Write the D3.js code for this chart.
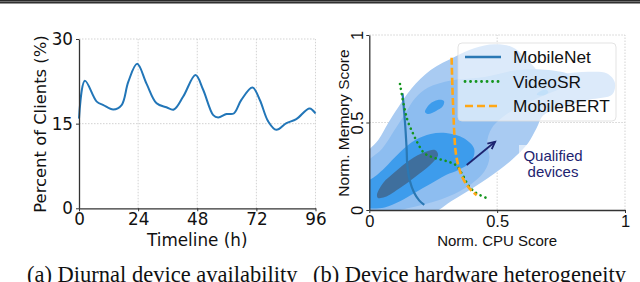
<!DOCTYPE html>
<html>
<head>
<meta charset="utf-8">
<script src="https://cdn.jsdelivr.net/npm/d3@7"></script>
<style>
  body { margin: 0; background: #fff; }
  svg { display: block; font-family: "DejaVu Sans", sans-serif; }
  .caption { font-family: "Liberation Serif", "Times New Roman", serif; }
  .sans { font-family: "Liberation Sans", Arial, sans-serif; }
</style>
</head>
<body>
<svg id="fig" width="640" height="282"></svg>
<script>
// ---- (a) diurnal availability ----
var hours   = [0, 2.4, 7.2, 9.9, 13.9, 17.3, 20, 23.6, 27.4, 31.5, 35.5, 38.5, 42.3, 47.3, 50.4, 54.5, 56.5, 59.9, 62.8, 65.9, 70.4, 73.4, 76.8, 80.1, 84.2, 88.2, 93.6, 96];
var clients = [15.9, 22.6, 18.9, 18.3, 17.5, 18.3, 22.4, 25.6, 22.1, 18.6, 17.9, 17.5, 19.8, 23.6, 21, 16.5, 16.1, 16.7, 16.8, 19.2, 21.4, 19.2, 15.4, 13.9, 15.1, 15.8, 17.7, 16.8];
var hourTicks = [0, 24, 48, 72, 96];
var clientTicks = [0, 15, 30];

// ---- (b) hardware heterogeneity, density contours ----
var levelOuter = [[-0.02,-0.02],[-0.02,0.30],[0.035,0.40],[0.075,0.50],[0.11,0.58],[0.165,0.695],[0.24,0.80],[0.335,0.876],[0.41,0.925],[0.49,0.947],[0.56,0.93],[0.63,0.84],[0.67,0.785],[0.75,0.78],[0.86,0.79],[0.93,0.78],[0.96,0.73],[0.95,0.66],[0.86,0.63],[0.75,0.585],[0.68,0.54],[0.655,0.47],[0.62,0.38],[0.56,0.29],[0.50,0.22],[0.42,0.14],[0.32,0.05],[0.24,-0.02]];
var levelMid = [[-0.02,0.25],[0.05,0.35],[0.10,0.46],[0.14,0.55],[0.18,0.64],[0.23,0.70],[0.32,0.74],[0.45,0.76],[0.58,0.80],[0.70,0.80],[0.78,0.77],[0.76,0.71],[0.66,0.64],[0.55,0.56],[0.48,0.47],[0.46,0.38],[0.47,0.30],[0.45,0.22],[0.38,0.13],[0.28,0.06],[0.15,0.01],[0.05,-0.02],[-0.02,-0.02]];
var levelHigh = [[-0.02,0.02],[-0.02,0.14],[0.03,0.20],[0.06,0.24],[0.12,0.33],[0.18,0.40],[0.24,0.435],[0.30,0.44],[0.37,0.41],[0.41,0.35],[0.40,0.28],[0.35,0.23],[0.30,0.20],[0.24,0.15],[0.18,0.10],[0.12,0.05],[0.06,0.015],[0.0,0.01]];
var levelHighSpotA = [[0.218,0.56],[0.237,0.606],[0.268,0.629],[0.292,0.623],[0.288,0.594],[0.261,0.566],[0.229,0.549]];
var levelHighSpotB = [[0.655,0.66],[0.67,0.68],[0.695,0.685],[0.70,0.67],[0.68,0.655]];
var levelPeak = [[0.030,0.086],[0.054,0.154],[0.10,0.217],[0.159,0.286],[0.218,0.331],[0.257,0.343],[0.269,0.314],[0.238,0.257],[0.179,0.189],[0.12,0.126],[0.061,0.074],[0.034,0.069]];

var mobileNet  = [[0.13,0.667],[0.137,0.55],[0.142,0.45],[0.146,0.35],[0.149,0.25],[0.158,0.17],[0.175,0.10],[0.195,0.055],[0.215,0.029]];
var videoSR    = [[0.12,0.72],[0.135,0.60],[0.15,0.51],[0.17,0.44],[0.19,0.38],[0.215,0.325],[0.25,0.30],[0.30,0.28],[0.34,0.255],[0.365,0.20],[0.39,0.135],[0.42,0.095],[0.465,0.065]];
var mobileBERT = [[0.322,0.87],[0.325,0.70],[0.329,0.55],[0.333,0.42],[0.338,0.33],[0.347,0.26],[0.36,0.20],[0.378,0.15],[0.40,0.11],[0.42,0.085]];
var arrowFromTo = [[0.381,0.257],[0.492,0.39]];
var scoreTicks = [0, 0.5, 1];
var scoreTickLabels = ['0', '0.5', '1'];
var legendNames = ['MobileNet', 'VideoSR', 'MobileBERT'];

var svg = d3.select('#fig');

// top rule of the page
svg.append('rect').attr('x', 0).attr('y', 0).attr('width', 640).attr('height', 3.5).attr('fill', '#2a2a2a');
svg.append('line').attr('x1', 0).attr('x2', 640).attr('y1', 1.6).attr('y2', 1.6).attr('stroke', '#8a8a8a').attr('stroke-width', 0.8);

// ================= (a) =================
var xA = d3.scaleLinear().domain([0, 96]).range([79, 315.5]);
var yA = d3.scaleLinear().domain([0, 30]).range([208.3, 39]);
var gA = svg.append('g');

// dotted grid
gA.selectAll('.gx').data(hourTicks.slice(1)).enter().append('line')
  .attr('x1', function (d) { return xA(d); }).attr('x2', function (d) { return xA(d); })
  .attr('y1', yA(0)).attr('y2', yA(30))
  .attr('stroke', '#c8c8c8').attr('stroke-width', 0.8).attr('stroke-dasharray', '1.5,1.5');
gA.selectAll('.gy').data(clientTicks.slice(1)).enter().append('line')
  .attr('x1', xA(0)).attr('x2', xA(96))
  .attr('y1', function (d) { return yA(d); }).attr('y2', function (d) { return yA(d); })
  .attr('stroke', '#c8c8c8').attr('stroke-width', 0.8).attr('stroke-dasharray', '1.5,1.5');

var lineA = d3.line()
  .x(function (d, i) { return xA(hours[i]); })
  .y(function (d) { return yA(d); })
  .curve(d3.curveCatmullRom.alpha(0.5));
gA.append('path').datum(clients).attr('d', lineA)
  .attr('fill', 'none').attr('stroke', '#2276b8').attr('stroke-width', 2);

var axA_x = gA.append('g').attr('transform', 'translate(0,' + yA(0) + ')')
  .call(d3.axisBottom(xA).tickValues(hourTicks).tickSize(3).tickPadding(2).tickSizeOuter(0));
var axA_y = gA.append('g').attr('transform', 'translate(' + xA(0) + ',0)')
  .call(d3.axisLeft(yA).tickValues(clientTicks).tickSize(3).tickPadding(3).tickSizeOuter(0));
[axA_x, axA_y].forEach(function (ax) {
  ax.select('.domain').attr('stroke', '#333').attr('stroke-width', 1.3);
  ax.selectAll('.tick line').attr('stroke', '#333');
  ax.selectAll('text').attr('font-size', 16.8).attr('fill', '#111').attr('font-family', 'DejaVu Sans');
});

gA.append('text').attr('x', (xA(0) + xA(96)) / 2).attr('y', 245.5)
  .attr('text-anchor', 'middle').attr('font-size', 16.8).attr('fill', '#111').text('Timeline (h)');
gA.append('text').attr('transform', 'translate(46,124) rotate(-90)')
  .attr('text-anchor', 'middle').attr('font-size', 16.4).attr('fill', '#111').text('Percent of Clients (%)');

// ================= (b) =================
var xB = d3.scaleLinear().domain([0, 1]).range([369.3, 625]);
var yB = d3.scaleLinear().domain([0, 1]).range([210, 35]);
var gB = svg.append('g').attr('class', 'sans');

svg.append('clipPath').attr('id', 'clipB').append('rect')
  .attr('x', xB(0)).attr('y', yB(1)).attr('width', xB(1) - xB(0)).attr('height', yB(0) - yB(1));

gB.selectAll('.gx').data([0.5, 1]).enter().append('line')
  .attr('x1', function (d) { return xB(d); }).attr('x2', function (d) { return xB(d); })
  .attr('y1', yB(0)).attr('y2', yB(1))
  .attr('stroke', '#c8c8c8').attr('stroke-width', 0.8).attr('stroke-dasharray', '1.5,1.5');
gB.selectAll('.gy').data([0.5, 1]).enter().append('line')
  .attr('x1', xB(0)).attr('x2', xB(1))
  .attr('y1', function (d) { return yB(d); }).attr('y2', function (d) { return yB(d); })
  .attr('stroke', '#c8c8c8').attr('stroke-width', 0.8).attr('stroke-dasharray', '1.5,1.5');

var area = d3.line()
  .x(function (d) { return xB(d[0]); })
  .y(function (d) { return yB(d[1]); })
  .curve(d3.curveCatmullRomClosed.alpha(0.5));

var contours = gB.append('g').attr('clip-path', 'url(#clipB)');
var levels = [
  { pts: levelOuter, fill: '#a9cbf2' },
  { pts: levelMid, fill: '#8dbdf0' },
  { pts: levelHigh, fill: '#3d9cec' },
  { pts: levelHighSpotA, fill: '#3d9cec' },
  { pts: levelHighSpotB, fill: '#68b2ef' },
  { pts: levelPeak, fill: '#3f6f9d' }
];
contours.selectAll('path').data(levels).enter().append('path')
  .attr('d', function (d) { return area(d.pts); })
  .attr('fill', function (d) { return d.fill; });

var curve = d3.line()
  .x(function (d) { return xB(d[0]); })
  .y(function (d) { return yB(d[1]); })
  .curve(d3.curveCatmullRom.alpha(0.5));

gB.append('path').datum(mobileNet).attr('d', curve)
  .attr('fill', 'none').attr('stroke', '#2a78b4').attr('stroke-width', 2.2);
gB.append('path').datum(videoSR).attr('d', curve)
  .attr('fill', 'none').attr('stroke', '#14951e').attr('stroke-width', 2.6)
  .attr('stroke-linecap', 'round').attr('stroke-dasharray', '0.1,5');
gB.append('path').datum(mobileBERT).attr('d', curve)
  .attr('fill', 'none').attr('stroke', '#ffa716').attr('stroke-width', 2.6)
  .attr('stroke-dasharray', '7,3');

// arrow towards qualified devices
var a0 = arrowFromTo[0], a1 = arrowFromTo[1];
var ax0 = xB(a0[0]), ay0 = yB(a0[1]), ax1 = xB(a1[0]), ay1 = yB(a1[1]);
var ang = Math.atan2(ay1 - ay0, ax1 - ax0);
gB.append('line').attr('x1', ax0).attr('y1', ay0).attr('x2', ax1).attr('y2', ay1)
  .attr('stroke', '#1d2470').attr('stroke-width', 1.8);
gB.append('path')
  .attr('d', 'M' + (ax1 - 8 * Math.cos(ang - 0.45)) + ',' + (ay1 - 8 * Math.sin(ang - 0.45)) +
    'L' + ax1 + ',' + ay1 +
    'L' + (ax1 - 8 * Math.cos(ang + 0.45)) + ',' + (ay1 - 8 * Math.sin(ang + 0.45)))
  .attr('fill', 'none').attr('stroke', '#1d2470').attr('stroke-width', 1.8);

// qualified devices label with faint box
gB.append('rect').attr('x', 519).attr('y', 145).attr('width', 68).attr('height', 35)
  .attr('fill', '#fff').attr('opacity', 0.6);
gB.append('text').attr('x', 553).attr('y', 161).attr('text-anchor', 'middle')
  .attr('font-size', 15).attr('fill', '#1d2470').text('Qualified');
gB.append('text').attr('x', 553).attr('y', 177).attr('text-anchor', 'middle')
  .attr('font-size', 15).attr('fill', '#1d2470').text('devices');

// axes
var axB_x = gB.append('g').attr('transform', 'translate(0,' + yB(0) + ')')
  .call(d3.axisBottom(xB).tickValues(scoreTicks).tickFormat(function (d, i) { return scoreTickLabels[i]; })
    .tickSize(3).tickPadding(2).tickSizeOuter(0));
var axB_y = gB.append('g').attr('transform', 'translate(' + xB(0) + ',0)')
  .call(d3.axisLeft(yB).tickValues(scoreTicks).tickFormat(function (d, i) { return scoreTickLabels[i]; })
    .tickSize(3).tickSizeOuter(0));
[axB_x, axB_y].forEach(function (ax) {
  ax.select('.domain').attr('stroke', '#333').attr('stroke-width', 1.3);
  ax.selectAll('.tick line').attr('stroke', '#333');
  ax.selectAll('text').attr('font-size', 16.5).attr('fill', '#111').attr('font-family', 'Liberation Sans, Arial, sans-serif');
});
axB_y.selectAll('.tick text')
  .attr('x', 0).attr('dy', null)
  .attr('transform', 'translate(-12,0) rotate(-90)')
  .attr('text-anchor', 'middle').attr('dominant-baseline', 'central');

gB.append('text').attr('x', (xB(0) + xB(1)) / 2).attr('y', 246)
  .attr('text-anchor', 'middle').attr('font-size', 15).attr('fill', '#111').text('Norm. CPU Score');
gB.append('text').attr('transform', 'translate(349,123) rotate(-90)')
  .attr('text-anchor', 'middle').attr('font-size', 15.5).attr('fill', '#111').text('Norm. Memory Score');

// legend
var leg = gB.append('g');
leg.append('rect').attr('x', 458).attr('y', 43).attr('width', 158).attr('height', 78).attr('rx', 4)
  .attr('fill', '#fff').attr('fill-opacity', 0.6).attr('stroke', '#dcdcdc').attr('stroke-width', 0.8);
var legStyles = [
  { stroke: '#2a78b4', dash: null, cap: 'butt', w: 2.5 },
  { stroke: '#14951e', dash: '0.1,5.4', cap: 'round', w: 2.8 },
  { stroke: '#ffa716', dash: '8,4', cap: 'butt', w: 2.6 }
];
legendNames.forEach(function (name, i) {
  var yy = 57 + i * 24.5;
  var s = legStyles[i];
  leg.append('line').attr('x1', 465).attr('x2', 501).attr('y1', yy).attr('y2', yy)
    .attr('stroke', s.stroke).attr('stroke-width', s.w).attr('stroke-linecap', s.cap)
    .attr('stroke-dasharray', s.dash);
  leg.append('text').attr('x', 513).attr('y', yy + 6).attr('font-size', 17.3).attr('fill', '#111').text(name);
});

// captions
svg.append('text').attr('class', 'caption').attr('x', 27).attr('y', 281.5)
  .attr('font-size', 22.5).attr('fill', '#111').text('(a) Diurnal device availability');
svg.append('text').attr('class', 'caption').attr('x', 313).attr('y', 281.5)
  .attr('font-size', 22.5).attr('fill', '#111').text('(b) Device hardware heterogeneity');
</script>
</body>
</html>
